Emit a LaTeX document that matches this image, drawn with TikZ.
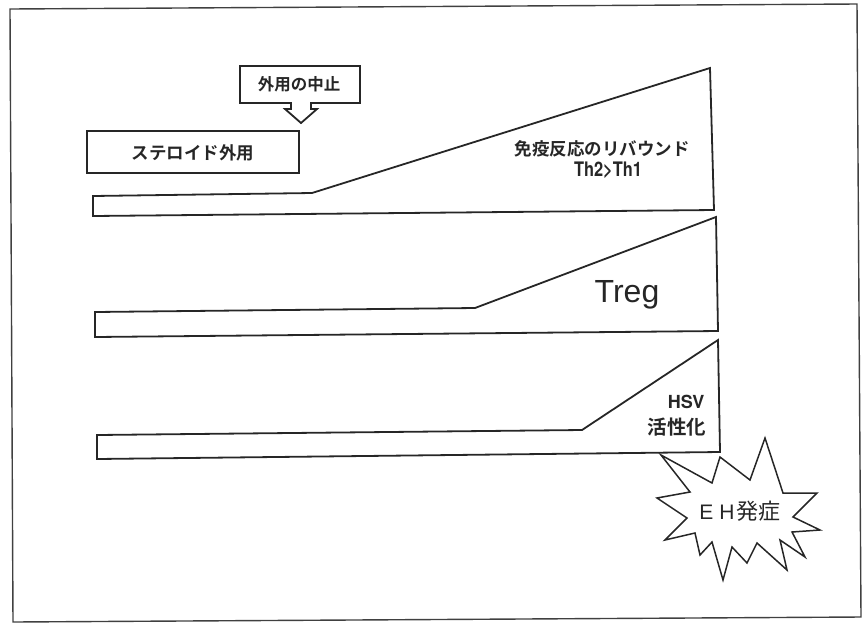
\documentclass[tikz,border=0pt]{standalone}
\usepackage{fontspec}
\usepackage{graphicx}
\setmainfont{Liberation Sans}
\newfontfamily\latb{texgyreheros-bold.otf}
\newfontfamily\jp{Noto Sans CJK JP}[BoldFont={Noto Sans CJK JP Bold}]
\begin{document}
\begin{tikzpicture}[x=1pt,y=-1pt,
  outline/.style={draw=black!85, line width=1.8pt, line join=miter},
  frameline/.style={draw=black!75, line width=1.4pt},
  lbl/.style={inner sep=0pt, text=black!85}]
\useasboundingbox (0,0) rectangle (865,625);
% outer frame
\draw[frameline] (10,9) -- (857,4) -- (861,617) -- (13,622) -- cycle;
% callout 外用の中止
\draw[outline] (240,66) -- (360,66) -- (360,103) -- (311,103) -- (311,109)
  -- (317,109) -- (301,123) -- (285,109) -- (291,109) -- (291,103) -- (240,103) -- cycle;
\node[lbl, font=\jp\bfseries\fontsize{16.5}{16.5}\selectfont] (stop) at (299,84) {外用の中止};
% steroid box
\draw[outline] (87,131) rectangle (299,173);
\node[lbl, font=\jp\bfseries\fontsize{17.5}{17.5}\selectfont] (ster) at (193,153) {ステロイド外用};
% wedge 1
\draw[outline] (93,196) -- (312,193) -- (710,68) -- (714,210) -- (93,216) -- cycle;
\node[lbl, font=\jp\bfseries\fontsize{17.5}{17.5}\selectfont] (rebound) at (602,149) {免疫反応のリバウンド};
\node[lbl, font=\latb\fontsize{20}{20}\selectfont] (th) at (608,170) {\scalebox{0.82}[1]{Th2>Th1}};
% wedge 2
\draw[outline] (95,312) -- (475,308) -- (716,217) -- (718,331) -- (95,337) -- cycle;
\node[lbl, anchor=base, font=\fontsize{32}{32}\selectfont] (treg) at (627,302) {Treg};
% wedge 3
\draw[outline] (97,435) -- (582,430) -- (718,340) -- (720,452) -- (97,459) -- cycle;
\node[lbl, anchor=base, font=\latb\fontsize{18}{18}\selectfont] (hsv) at (686,408) {HSV};
\node[lbl, font=\jp\bfseries\fontsize{19.5}{19.5}\selectfont] (act) at (677,427) {活性化};
% starburst
\draw[outline, line width=1.5pt] (661,455) -- (712,483) -- (720,457) -- (750,480) -- (765,438)
  -- (783,493) -- (817,493) -- (793,517) -- (820,530) -- (792,532) -- (805,557)
  -- (780,540) -- (787,570) -- (757,543) -- (747,563) -- (732,547) -- (723,580)
  -- (712,542) -- (700,555) -- (695,533) -- (665,540) -- (687,518) -- (657,498)
  -- (690,492) -- cycle;
\node[lbl] (eh) at (740,511) {{\fontsize{21}{21}\selectfont E\hspace{6pt}H}\hspace{2pt}{\jp\fontsize{22}{22}\selectfont 発症}};
\end{tikzpicture}
\end{document}
